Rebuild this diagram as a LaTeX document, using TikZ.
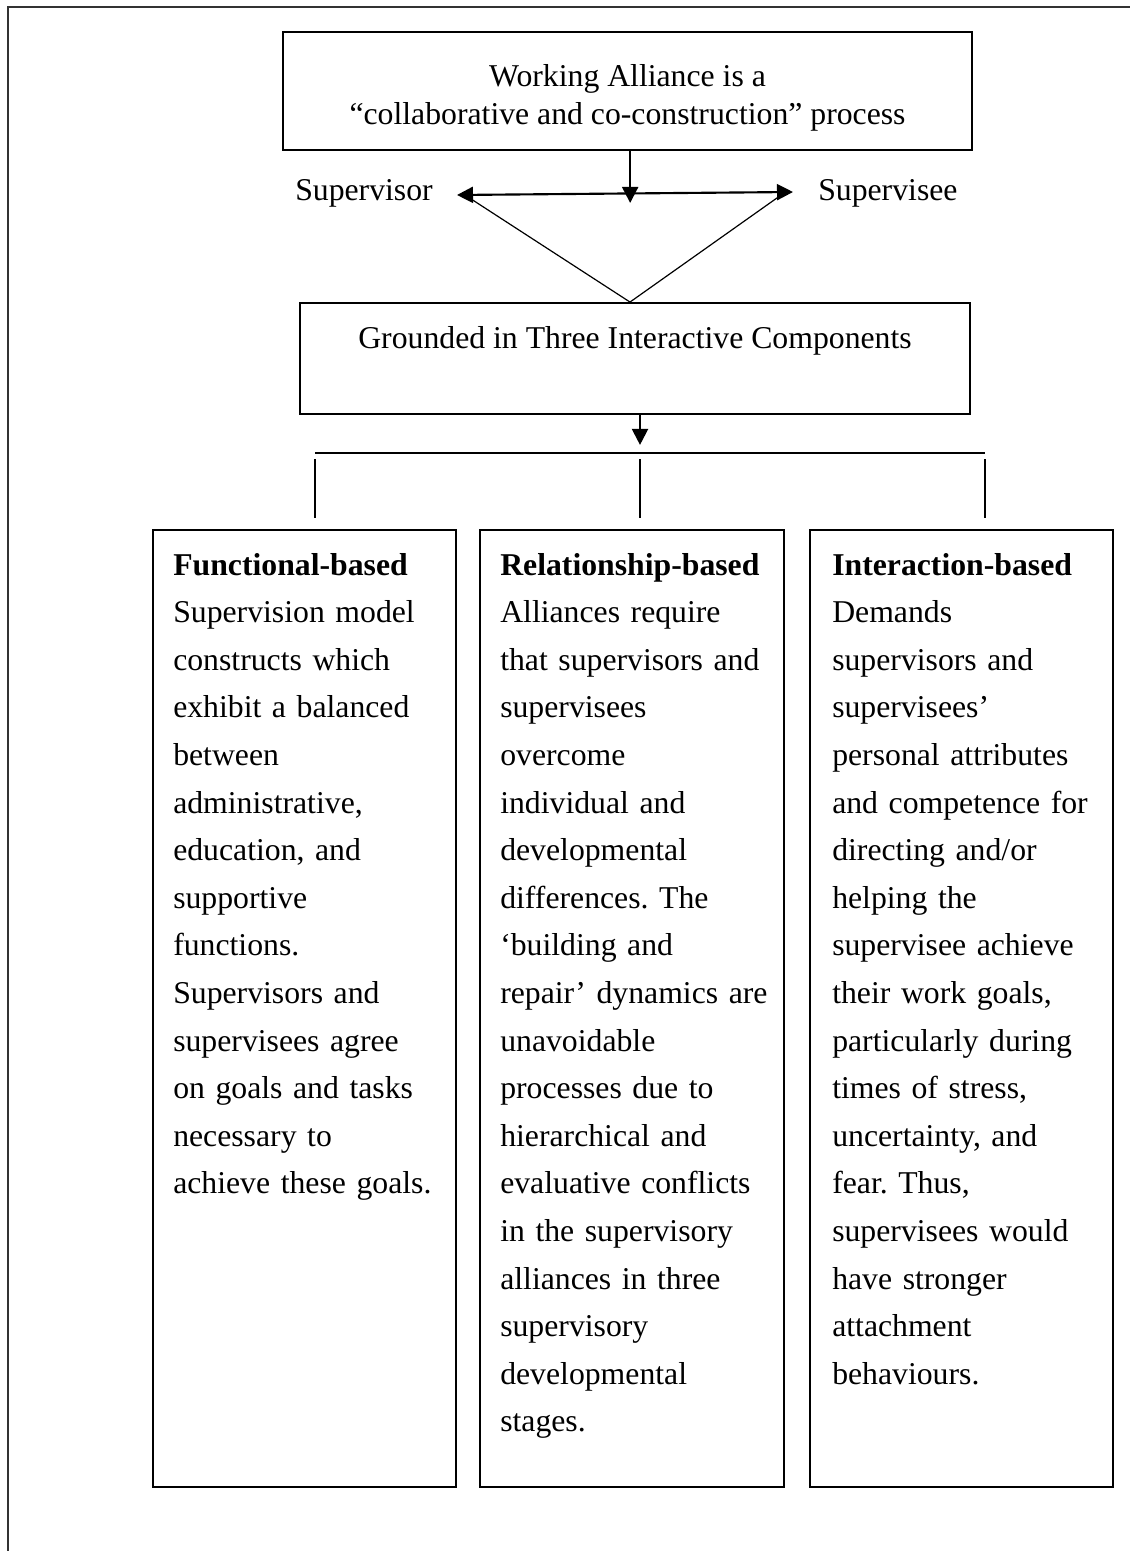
\documentclass[tikz,border=0pt]{standalone}
\usepackage{fontspec}
\setmainfont{Liberation Serif}
\usetikzlibrary{arrows.meta,fit}
\frenchspacing

\begin{document}
\begin{tikzpicture}[x=0.75pt,y=-0.75pt,
  box/.style={draw, line width=1.4pt, inner sep=0pt},
  body/.style={anchor=base west, inner sep=0pt, text width=225pt, align=left,
    font=\fontsize{23.8pt}{35.7pt}\selectfont},
  lbl/.style={inner sep=0pt, font=\fontsize{23.8pt}{28.5pt}\selectfont},
  conn/.style={line width=1.1pt},
  tip/.style={Triangle[length=12pt,width=12pt]},
  arr/.style={line width=1.6pt, -{Triangle[length=12pt,width=12pt]}},
]
\useasboundingbox (0,0) rectangle (1130,1551);

% open frame: top and left edges only
\draw[line width=1.5pt, black!80] (8,1551) -- (8,7) -- (1130,7);

% corner points of the boxes
\coordinate (t1) at (283,32);   \coordinate (t2) at (972,150);
\coordinate (g1) at (300,303);  \coordinate (g2) at (970,414);
\coordinate (f1) at (153,530);  \coordinate (f2) at (456,1487);
\coordinate (r1) at (480,530);  \coordinate (r2) at (784,1487);
\coordinate (i1) at (810,530);  \coordinate (i2) at (1113,1487);

\node[box, fit=(t1)(t2)] (top) {};
\node[box, fit=(g1)(g2)] (ground) {};
\node[box, fit=(f1)(f2)] (func) {};
\node[box, fit=(r1)(r2)] (rel) {};
\node[box, fit=(i1)(i2)] (inter) {};

% box texts
\node[lbl, anchor=base, align=center] (toptext) at (627.5,125)
  {Working Alliance is a\\``collaborative and co-construction'' process};
\node[lbl, anchor=base] (groundtext) at (635,348)
  {Grounded in Three Interactive Components};

\node[body] (functext) at (173,575) {\textbf{Functional-based}\\
Supervision model\\
constructs which\\
exhibit a balanced\\
between\\
administrative,\\
education, and\\
supportive\\
functions.\\
Supervisors and\\
supervisees agree\\
on goals and tasks\\
necessary to\\
achieve these goals.};

\node[body] (reltext) at (500,575) {\textbf{Relationship-based}\\
Alliances require\\
that supervisors and\\
supervisees\\
overcome\\
individual and\\
developmental\\
differences. The\\
`building and\\
repair' dynamics are\\
unavoidable\\
processes due to\\
hierarchical and\\
evaluative conflicts\\
in the supervisory\\
alliances in three\\
supervisory\\
developmental\\
stages.};

\node[body] (intertext) at (832,575) {\textbf{Interaction-based}\\
Demands\\
supervisors and\\
supervisees'\\
personal attributes\\
and competence for\\
directing and/or\\
helping the\\
supervisee achieve\\
their work goals,\\
particularly during\\
times of stress,\\
uncertainty, and\\
fear. Thus,\\
supervisees would\\
have stronger\\
attachment\\
behaviours.};

% side labels
\node[lbl, anchor=base west] (sup) at (295,201) {Supervisor};
\node[lbl, anchor=base west] (see) at (818,201) {Supervisee};

% two-way link between supervisor and supervisee
\coordinate (sl) at (457,195);
\coordinate (sr) at (793,192);
\draw[arr] ([xshift=2pt]top.south) -- ++(0,52);
\draw[line width=1.6pt, {Triangle[length=12pt,width=12pt]}-{Triangle[length=12pt,width=12pt]}] (sl) -- (sr);

% converging lines into the components box
\coordinate (dl) at (468,197);
\coordinate (dr) at (784,193);
\draw[line width=0.9pt] (dl) -- ([xshift=-3.75pt]ground.north) -- (dr);

% branching into the three components
\draw[arr] ([xshift=3.75pt]ground.south) -- ++(0,30);
\coordinate (bl) at (315,453);
\coordinate (br) at (985,453);
\draw[conn] (bl) -- (br);
\coordinate (s1a) at (315,459); \coordinate (s1b) at (315,518);
\coordinate (s2a) at (640,459); \coordinate (s2b) at (640,518);
\coordinate (s3a) at (985,459); \coordinate (s3b) at (985,518);
\draw[conn] (s1a) -- (s1b);
\draw[conn] (s2a) -- (s2b);
\draw[conn] (s3a) -- (s3b);
\end{tikzpicture}
\end{document}
